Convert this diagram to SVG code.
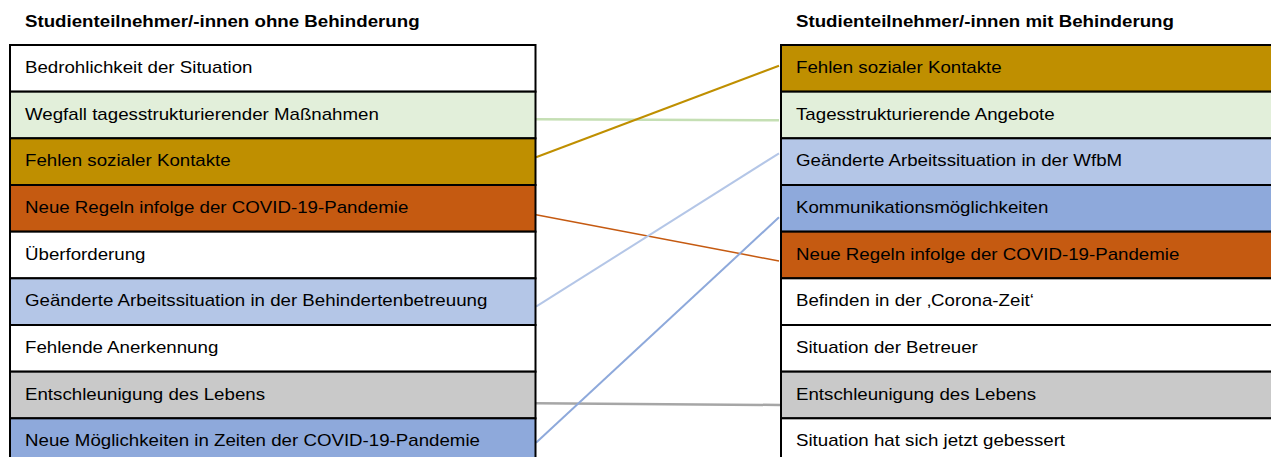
<svg xmlns="http://www.w3.org/2000/svg" width="1271" height="457" viewBox="0 0 1271 457">
<style>
.row{stroke:#000;stroke-width:2}
.t{font-family:"Liberation Sans",Arial,sans-serif;font-size:16.4px;fill:#000}
.h{font-family:"Liberation Sans",Arial,sans-serif;font-size:16.4px;font-weight:bold;fill:#000}
.c{fill:none}
.white{fill:#fff}.green{fill:#E2EFDA}.gold{fill:#BF8F00}.orange{fill:#C55A11}.lblue{fill:#B4C6E7}.blue{fill:#8EA9DB}.gray{fill:#C9C9C9}
</style>
<rect width="1271" height="457" fill="#fff"/>
<text id="header-left" class="h" transform="translate(25 27) scale(1.14 1)">Studienteilnehmer/-innen ohne Behinderung</text>
<text id="header-right" class="h" transform="translate(796 27) scale(1.14 1)">Studienteilnehmer/-innen mit Behinderung</text>

<g id="connectors" class="c">
<line x1="536" y1="119.3" x2="779" y2="120.3" stroke="#C5DFB4" stroke-width="2.5"/>
<line x1="536" y1="157.3" x2="779" y2="65.7" stroke="#BF8F00" stroke-width="2"/>
<line x1="536" y1="214.7" x2="779" y2="261" stroke="#C55A11" stroke-width="1.5"/>
<line x1="536" y1="306.7" x2="779" y2="153.3" stroke="#B4C6E7" stroke-width="2"/>
<line x1="536" y1="403.3" x2="780" y2="405" stroke="#A6A6A6" stroke-width="2.5"/>
<line x1="536" y1="442.7" x2="779" y2="217.3" stroke="#8EA9DB" stroke-width="2"/>
</g>

<g id="left-1"><rect class="row white" x="10" y="45" width="525.5" height="46.67"/><text class="t" transform="translate(25 72.8) scale(1.14 1)">Bedrohlichkeit der Situation</text></g>
<g id="left-2"><rect class="row green" x="10" y="91.67" width="525.5" height="46.67"/><text class="t" transform="translate(25 119.5) scale(1.14 1)">Wegfall tagesstrukturierender Maßnahmen</text></g>
<g id="left-3"><rect class="row gold" x="10" y="138.33" width="525.5" height="46.67"/><text class="t" transform="translate(25 166.1) scale(1.14 1)">Fehlen sozialer Kontakte</text></g>
<g id="left-4"><rect class="row orange" x="10" y="185" width="525.5" height="46.67"/><text class="t" transform="translate(25 212.8) scale(1.14 1)">Neue Regeln infolge der COVID-19-Pandemie</text></g>
<g id="left-5"><rect class="row white" x="10" y="231.67" width="525.5" height="46.67"/><text class="t" transform="translate(25 259.5) scale(1.14 1)">Überforderung</text></g>
<g id="left-6"><rect class="row lblue" x="10" y="278.33" width="525.5" height="46.67"/><text class="t" transform="translate(25 306.1) scale(1.14 1)">Geänderte Arbeitssituation in der Behindertenbetreuung</text></g>
<g id="left-7"><rect class="row white" x="10" y="325" width="525.5" height="46.67"/><text class="t" transform="translate(25 352.8) scale(1.14 1)">Fehlende Anerkennung</text></g>
<g id="left-8"><rect class="row gray" x="10" y="371.67" width="525.5" height="46.67"/><text class="t" transform="translate(25 399.5) scale(1.14 1)">Entschleunigung des Lebens</text></g>
<g id="left-9"><rect class="row blue" x="10" y="418.33" width="525.5" height="46.67"/><text class="t" transform="translate(25 446.1) scale(1.14 1)">Neue Möglichkeiten in Zeiten der COVID-19-Pandemie</text></g>

<g id="right-1"><rect class="row gold" x="781" y="45" width="500" height="46.67"/><text class="t" transform="translate(796 72.8) scale(1.14 1)">Fehlen sozialer Kontakte</text></g>
<g id="right-2"><rect class="row green" x="781" y="91.67" width="500" height="46.67"/><text class="t" transform="translate(796 119.5) scale(1.14 1)">Tagesstrukturierende Angebote</text></g>
<g id="right-3"><rect class="row lblue" x="781" y="138.33" width="500" height="46.67"/><text class="t" transform="translate(796 166.1) scale(1.14 1)">Geänderte Arbeitssituation in der WfbM</text></g>
<g id="right-4"><rect class="row blue" x="781" y="185" width="500" height="46.67"/><text class="t" transform="translate(796 212.8) scale(1.14 1)">Kommunikationsmöglichkeiten</text></g>
<g id="right-5"><rect class="row orange" x="781" y="231.67" width="500" height="46.67"/><text class="t" transform="translate(796 259.5) scale(1.14 1)">Neue Regeln infolge der COVID-19-Pandemie</text></g>
<g id="right-6"><rect class="row white" x="781" y="278.33" width="500" height="46.67"/><text class="t" transform="translate(796 306.1) scale(1.14 1)">Befinden in der ‚Corona-Zeit‘</text></g>
<g id="right-7"><rect class="row white" x="781" y="325" width="500" height="46.67"/><text class="t" transform="translate(796 352.8) scale(1.14 1)">Situation der Betreuer</text></g>
<g id="right-8"><rect class="row gray" x="781" y="371.67" width="500" height="46.67"/><text class="t" transform="translate(796 399.5) scale(1.14 1)">Entschleunigung des Lebens</text></g>
<g id="right-9"><rect class="row white" x="781" y="418.33" width="500" height="46.67"/><text class="t" transform="translate(796 446.1) scale(1.14 1)">Situation hat sich jetzt gebessert</text></g>
</svg>
